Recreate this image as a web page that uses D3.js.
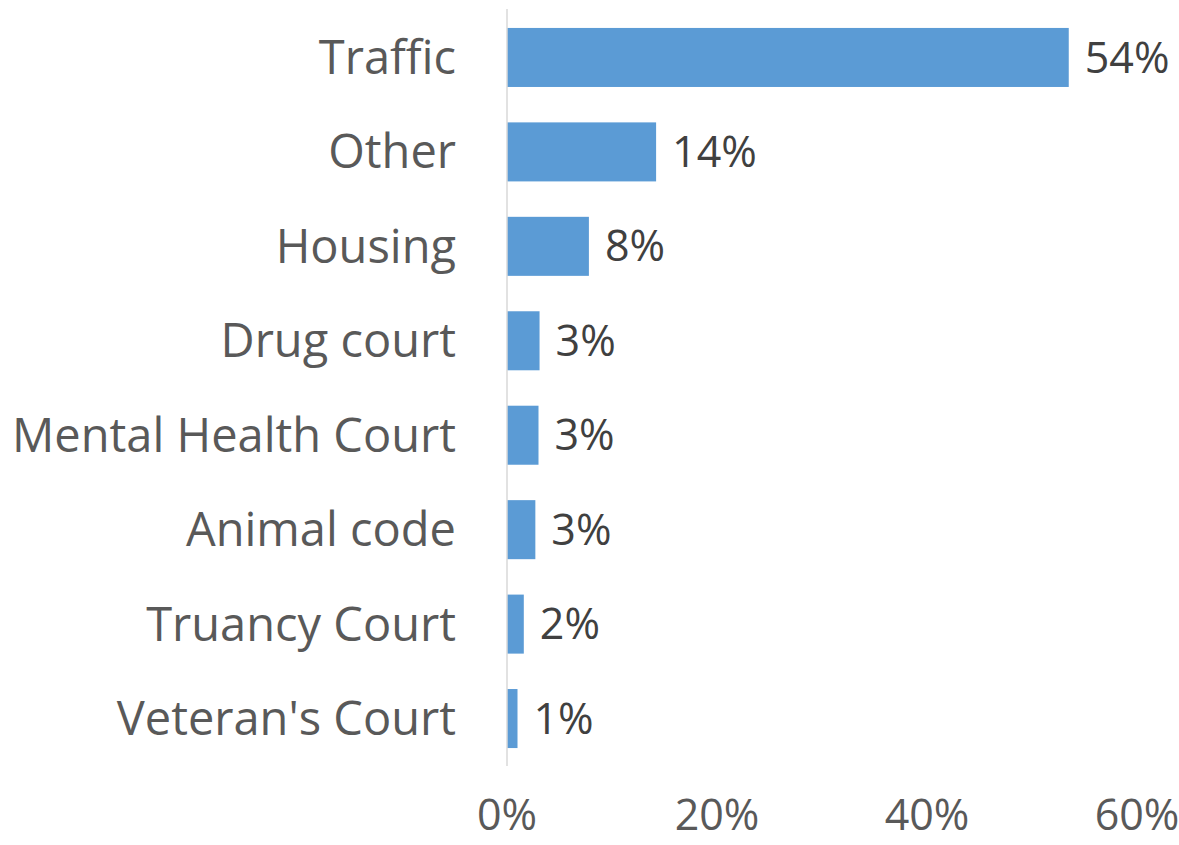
<!DOCTYPE html>
<html>
<head>
<meta charset="utf-8">
<script src="https://cdn.jsdelivr.net/npm/d3@7"></script>
<style>
  body { margin: 0; background: #fff; }
  text { font-family: "Open Sans", sans-serif; }
  .cat-label { fill: #595959; font-size: 47px; }
  .val-label { fill: #404040; font-size: 43px; }
  .tick-label { fill: #595959; font-size: 43px; }
</style>
</head>
<body>
<div id="chart"></div>
<script>
// categories, top to bottom
var categories = ["Traffic", "Other", "Housing", "Drug court", "Mental Health Court",
                  "Animal code", "Truancy Court", "Veteran's Court"];
// share of cases (%)
var values = [53.5, 14.2, 7.8, 3.1, 3.0, 2.7, 1.6, 1.0];
var valueLabels = ["54%", "14%", "8%", "3%", "3%", "3%", "2%", "1%"];
var ticks = [0, 20, 40, 60];

var width = 1179, height = 845;

var svg = d3.select("#chart")
    .append("svg")
    .attr("width", width)
    .attr("height", height);

var x = d3.scaleLinear()
    .domain([0, 60])
    .range([507, 1137]);

var y = d3.scaleBand()
    .domain(categories)
    .range([10, 766])
    .paddingInner(0.375)
    .paddingOuter(0.19);

// bars
svg.selectAll("rect.bar")
    .data(values)
    .enter()
    .append("rect")
    .attr("class", "bar")
    .attr("x", x(0))
    .attr("y", function(d, i) { return y(categories[i]); })
    .attr("width", function(d) { return x(d) - x(0); })
    .attr("height", y.bandwidth())
    .attr("fill", "#5b9bd5");

// vertical axis line
svg.append("line")
    .attr("x1", x(0)).attr("x2", x(0))
    .attr("y1", 9).attr("y2", 766)
    .attr("stroke", "#d9d9d9")
    .attr("stroke-width", 1.5);

// category labels
svg.selectAll("text.cat-label")
    .data(categories)
    .enter()
    .append("text")
    .attr("class", "cat-label")
    .attr("x", 456)
    .attr("y", function(d) { return y(d) + y.bandwidth() / 2; })
    .attr("dy", "0.35em")
    .attr("text-anchor", "end")
    .text(function(d) { return d; });

// value labels
svg.selectAll("text.val-label")
    .data(values)
    .enter()
    .append("text")
    .attr("class", "val-label")
    .attr("x", function(d) { return x(d) + 16; })
    .attr("y", function(d, i) { return y(categories[i]) + y.bandwidth() / 2; })
    .attr("dy", "0.35em")
    .text(function(d, i) { return valueLabels[i]; });

// x tick labels
svg.selectAll("text.tick-label")
    .data(ticks)
    .enter()
    .append("text")
    .attr("class", "tick-label")
    .attr("x", function(d) { return x(d); })
    .attr("y", 830)
    .attr("text-anchor", "middle")
    .text(function(d) { return d + "%"; });
</script>
</body>
</html>
